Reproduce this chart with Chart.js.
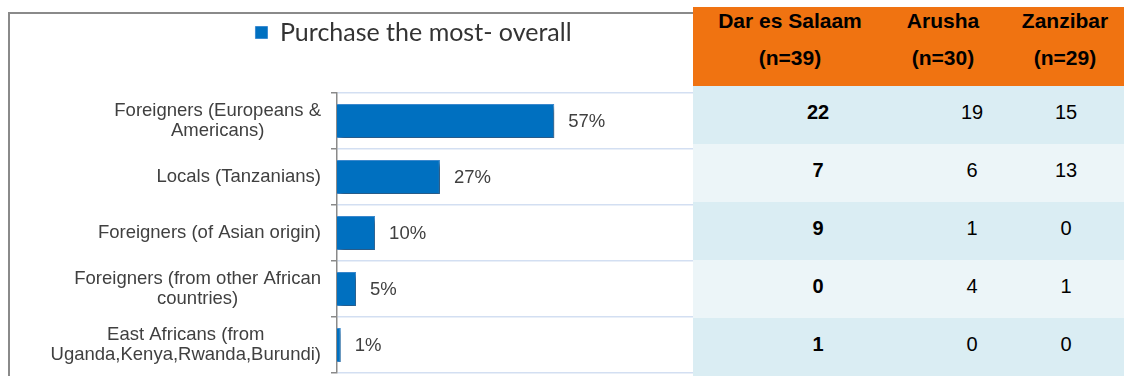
<!DOCTYPE html>
<html>
<head>
<meta charset="utf-8">
<title>Purchase the most - overall</title>
<script src="https://cdn.jsdelivr.net/npm/chart.js@4.4.1/dist/chart.umd.min.js"></script>
<style>
  html, body { margin: 0; padding: 0; background: #fff; }
  body { width: 1124px; height: 376px; position: relative; overflow: hidden; font-family: "Liberation Sans", Arial, sans-serif; }
  #frame { position: absolute; left: 8px; top: 12px; width: 720px; height: 400px; border-left: 2px solid #8a8a8a; border-top: 2px solid #8a8a8a; }
  #purchaseChart { position: absolute; left: 0; top: 0; }
  #cityTable { position: absolute; left: 693px; top: 7px; width: 431px; height: 369px; }
  .head { position: absolute; left: 0; top: 0; width: 431px; height: 79px; background: #F07311; }
  .row { position: absolute; left: 0; width: 431px; height: 58px; }
  .cell { position: absolute; width: 160px; margin-left: -80px; text-align: center; color: #000; }
  .head .cell { font-size: 21px; line-height: 21px; font-weight: bold; }
  .row .cell { font-size: 20px; line-height: 20px; top: 16px; }
</style>
</head>
<body>
<div id="frame"></div>
<canvas id="purchaseChart" width="693" height="376"></canvas>
<div id="cityTable"></div>
<script>
// who buys the most, all three cities together (% of respondents)
const categories = [
    ['Foreigners (Europeans &', 'Americans)'],
    ['Locals (Tanzanians)'],
    ['Foreigners (of Asian origin)'],
    ['Foreigners (from other African', 'countries)'],
    ['East Africans (from', 'Uganda,Kenya,Rwanda,Burundi)']
];
const overallShare = [57, 27, 10, 5, 1];

// counts per city
const cities = ['Dar es Salaam', 'Arusha', 'Zanzibar'];
const citySizes = ['(n=39)', '(n=30)', '(n=29)'];
const darEsSalaam = [22, 7, 9, 0, 1];
const arusha = [19, 6, 1, 4, 0];
const zanzibar = [15, 13, 0, 1, 0];

const LABEL_FONT = '18.5px "Liberation Sans", Arial, sans-serif';

// grey drop shadow under the bars
const barShadow = {
    id: 'barShadow',
    beforeDatasetsDraw(chart) {
        const ctx = chart.ctx;
        ctx.save();
        ctx.shadowColor = 'rgba(0,0,0,0.45)';
        ctx.shadowBlur = 5;
        ctx.shadowOffsetX = 3;
        ctx.shadowOffsetY = 3;
    },
    afterDatasetsDraw(chart) {
        chart.ctx.restore();
    }
};

// category names: block right-aligned to the axis, lines centred inside the block
const categoryLabels = {
    id: 'categoryLabels',
    afterDraw(chart) {
        const ctx = chart.ctx;
        const y = chart.scales.y;
        const right = y.right - y.options.grid.tickLength - 10;
        const lineH = 20.5;
        ctx.save();
        ctx.font = LABEL_FONT;
        ctx.fillStyle = '#404040';
        ctx.textAlign = 'center';
        ctx.textBaseline = 'middle';
        chart.data.labels.forEach((lines, i) => {
            const yc = y.getPixelForValue(i);
            const w = Math.max(...lines.map(l => ctx.measureText(l).width));
            lines.forEach((line, k) => {
                ctx.fillText(line, right - w / 2, yc + (k - (lines.length - 1) / 2) * lineH);
            });
        });
        ctx.restore();
    }
};

// "57%" etc. after each bar
const valueLabels = {
    id: 'valueLabels',
    afterDraw(chart) {
        const ctx = chart.ctx;
        const meta = chart.getDatasetMeta(0);
        ctx.save();
        ctx.font = LABEL_FONT;
        ctx.fillStyle = '#404040';
        ctx.textAlign = 'left';
        ctx.textBaseline = 'middle';
        meta.data.forEach((bar, i) => {
            ctx.fillText(chart.data.datasets[0].data[i] + '%', bar.x + 14, bar.y + 1);
        });
        ctx.restore();
    }
};

new Chart(document.getElementById('purchaseChart'), {
    type: 'bar',
    data: {
        labels: categories,
        datasets: [{
            label: 'Purchase the most- overall',
            data: overallShare,
            backgroundColor: '#0070C0',
            borderColor: '#3d8cd2',
            borderWidth: 1,
            barPercentage: 0.61,
            categoryPercentage: 1
        }]
    },
    options: {
        indexAxis: 'y',
        responsive: false,
        animation: false,
        layout: { padding: { left: 134, top: 0, right: 0, bottom: 3 } },
        plugins: {
            legend: {
                position: 'top',
                labels: {
                    boxWidth: 12,
                    boxHeight: 12,
                    padding: 20,
                    color: '#333',
                    font: { family: 'Lato', size: 25 }
                }
            },
            tooltip: { enabled: false }
        },
        scales: {
            x: {
                position: 'top',
                min: 0,
                max: 93.4,
                grid: { display: false },
                ticks: { display: false },
                border: { display: false },
                afterFit(scale) { scale.height = 38; }
            },
            y: {
                offset: true,
                grid: { offset: true, color: '#d3dff2', lineWidth: 1.5, tickColor: '#8a8a8a', tickLength: 6 },
                border: { color: '#8a8a8a', width: 1.5 },
                ticks: { display: false },
                afterFit(scale) { scale.width = 203; }
            }
        }
    },
    plugins: [barShadow, categoryLabels, valueLabels]
});

// city table on the right
const table = document.getElementById('cityTable');
const headerX = [97, 250, 372];
const valueX = [125, 279, 373];
const rowColors = ['#daedf3', '#ecf5f8'];

const head = document.createElement('div');
head.className = 'head';
cities.forEach((city, c) => {
    [city, citySizes[c]].forEach((txt, k) => {
        const d = document.createElement('div');
        d.className = 'cell';
        d.style.left = headerX[c] + 'px';
        d.style.top = (k === 0 ? 3 : 40) + 'px';
        d.textContent = txt;
        head.appendChild(d);
    });
});
table.appendChild(head);

const columns = [darEsSalaam, arusha, zanzibar];
categories.forEach((cat, r) => {
    const row = document.createElement('div');
    row.className = 'row';
    row.style.top = (79 + r * 58) + 'px';
    row.style.background = rowColors[r % 2];
    columns.forEach((col, c) => {
        const d = document.createElement('div');
        d.className = 'cell';
        d.style.left = valueX[c] + 'px';
        if (c === 0) d.style.fontWeight = 'bold';
        d.textContent = col[r];
        row.appendChild(d);
    });
    table.appendChild(row);
});
</script>
</body>
</html>
